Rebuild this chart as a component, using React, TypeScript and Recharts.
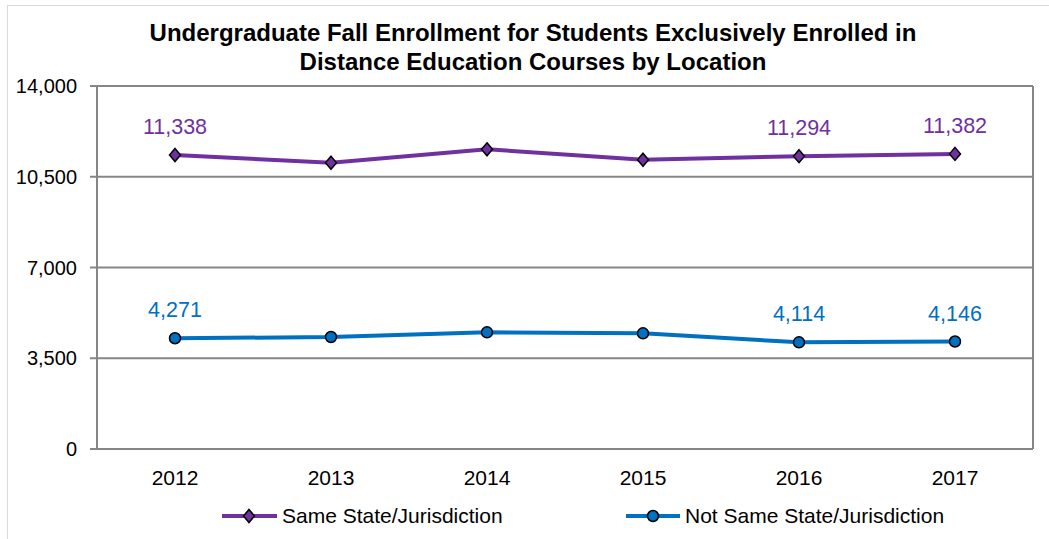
import React from 'react';
import { LineChart, Line, XAxis, YAxis, CartesianGrid, LabelList, Legend } from 'recharts';

const years = ['2012', '2013', '2014', '2015', '2016', '2017'];
const sameState = [11338, 11041, 11558, 11157, 11294, 11382];
const notSameState = [4271, 4319, 4500, 4462, 4114, 4146];
const showLabel = [true, false, false, false, true, true];
const yTicks = [0, 3500, 7000, 10500, 14000];

const SAME_NAME = 'Same State/Jurisdiction';
const NOT_NAME = 'Not Same State/Jurisdiction';
const PURPLE = '#7030A0';
const BLUE = '#0070C0';
const GRID = '#868686';
const FONT = '"Liberation Sans", Arial, sans-serif';

const data = years.map((y, i) => ({ year: y, same: sameState[i], notSame: notSameState[i] }));

const fmt = (v: number) => v.toLocaleString('en-US');

const Diamond = (props: any) => {
  const { cx, cy } = props;
  if (cx == null || cy == null) return null;
  return (
    <path
      d={`M${cx},${cy - 6.5} L${cx + 5.5},${cy} L${cx},${cy + 6.5} L${cx - 5.5},${cy} Z`}
      fill={PURPLE}
      stroke="#000"
      strokeWidth={1.5}
    />
  );
};

const Circle = (props: any) => {
  const { cx, cy } = props;
  if (cx == null || cy == null) return null;
  return <circle cx={cx} cy={cy} r={5.5} fill={BLUE} stroke="#000" strokeWidth={1.5} />;
};

const makeLabel = (color: string) => (props: any) => {
  const { x, y, value, index } = props;
  if (!showLabel[index]) return null;
  return (
    <text x={x} y={y - 21} textAnchor="middle" fill={color} fontSize={21.5} fontFamily={FONT}>
      {fmt(value)}
    </text>
  );
};

const renderLegend = () => (
  <svg width={1049} height={30} style={{ display: 'block' }}>
    <g>
      <line x1={222} x2={277} y1={15} y2={15} stroke={PURPLE} strokeWidth={4} />
      <path d="M249,8.5 L254.5,15 L249,21.5 L243.5,15 Z" fill={PURPLE} stroke="#000" strokeWidth={1.5} />
      <text x={282} y={22} fontSize={21} fontFamily={FONT} fill="#000">{SAME_NAME}</text>
    </g>
    <g>
      <line x1={626} x2={680} y1={15} y2={15} stroke={BLUE} strokeWidth={4} />
      <circle cx={653} cy={15} r={5.5} fill={BLUE} stroke="#000" strokeWidth={1.5} />
      <text x={685} y={22} fontSize={21} fontFamily={FONT} fill="#000">{NOT_NAME}</text>
    </g>
  </svg>
);

export default function App() {
  return (
    <div style={{ position: 'absolute', left: 0, top: 0, width: 1049, height: 539, background: '#fff', overflow: 'hidden', fontFamily: FONT }}>
      <div style={{ position: 'absolute', left: 7, top: 5, width: 1100, height: 600, border: '1px solid #d9d9d9' }} />
      <div style={{ position: 'absolute', left: 0, top: 18, width: 1066, textAlign: 'center', fontWeight: 'bold', fontSize: 24, lineHeight: '29px', color: '#000' }}>
        Undergraduate Fall Enrollment for Students Exclusively Enrolled in
        <br />
        Distance Education Courses by Location
      </div>
      <div style={{ position: 'absolute', left: 0, top: 0 }}>
        <LineChart width={1049} height={539} data={data} margin={{ top: 86, right: 16, bottom: 50, left: 7 }}>
          <CartesianGrid
            stroke={GRID}
            strokeWidth={2}
            verticalCoordinatesGenerator={({ offset }: any) => [offset.left, offset.left + offset.width]}
          />
          <XAxis
            dataKey="year"
            height={40}
            padding={{ left: 78, right: 78 }}
            tickLine={false}
            tickSize={0}
            tickMargin={21}
            axisLine={{ stroke: GRID, strokeWidth: 2 }}
            tick={{ fill: '#000', fontSize: 21, fontFamily: FONT }}
          />
          <YAxis
            width={90}
            domain={[0, 14000]}
            ticks={yTicks}
            interval={0}
            tickFormatter={fmt}
            tickSize={7}
            tickMargin={13}
            tickLine={{ stroke: GRID, strokeWidth: 2 }}
            axisLine={{ stroke: GRID, strokeWidth: 2 }}
            tick={{ fill: '#000', fontSize: 20, fontFamily: FONT }}
          />
          <Legend
            layout="horizontal"
            verticalAlign="middle"
            align="center"
            content={renderLegend}
            wrapperStyle={{ top: 501, left: 0, width: 1049 }}
          />
          <Line
            name={SAME_NAME}
            dataKey="same"
            stroke={PURPLE}
            strokeWidth={4}
            dot={<Diamond />}
            activeDot={false}
            isAnimationActive={false}
          >
            <LabelList dataKey="same" content={makeLabel(PURPLE)} />
          </Line>
          <Line
            name={NOT_NAME}
            dataKey="notSame"
            stroke={BLUE}
            strokeWidth={4}
            dot={<Circle />}
            activeDot={false}
            isAnimationActive={false}
          >
            <LabelList dataKey="notSame" content={makeLabel(BLUE)} />
          </Line>
        </LineChart>
      </div>
    </div>
  );
}
